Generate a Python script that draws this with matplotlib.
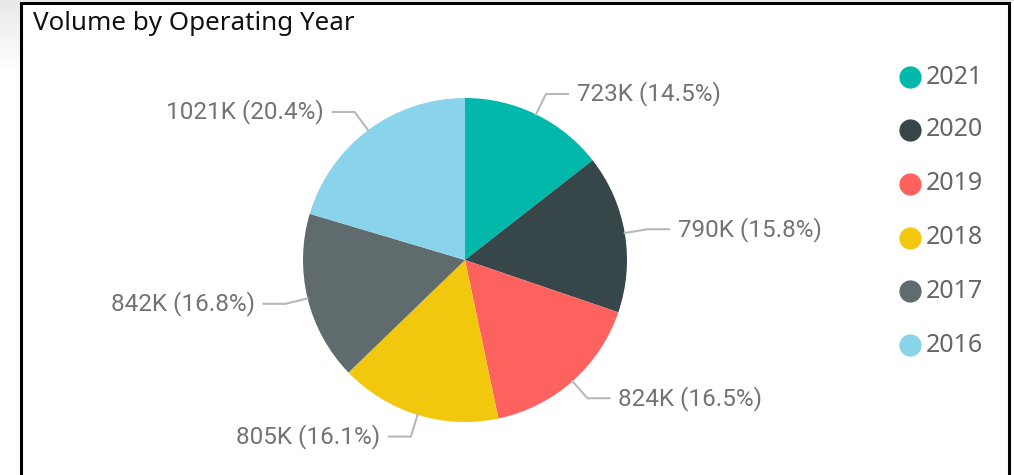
import numpy as np
import matplotlib.pyplot as plt

title = "Volume by Operating Year"
years = ["2021", "2020", "2019", "2018", "2017", "2016"]
values_k = [723, 790, 824, 805, 842, 1021]
pct_labels = ["14.5%", "15.8%", "16.5%", "16.1%", "16.8%", "20.4%"]
colors = ["#01B8AA", "#374649", "#FD625E", "#F2C80F", "#5F6B6D", "#8AD4EB"]

W, H = 1014, 475
fig = plt.figure(figsize=(W / 100, H / 100), dpi=100)
fig.patch.set_facecolor("white")
ax = fig.add_axes([0, 0, 1, 1])
ax.set_xlim(0, W)
ax.set_ylim(0, H)
ax.axis("off")

# light gradient outside the visual border (top-left)
grad = np.linspace(0.91, 1.0, 64).reshape(-1, 1)
ax.imshow(np.dstack([grad] * 3), extent=(0, 20, H - 70, H), aspect="auto", zorder=0)
ax.imshow(np.dstack([grad[:8]] * 3), extent=(0, W, H - 2, H), aspect="auto", zorder=0)

# visual border
ax.plot([21, 21, 1009, 1009], [0, H - 2.5, H - 2.5, 0], color="black", lw=2.2,
        solid_joinstyle="miter", zorder=5)

ax.text(33, H - 24, title, fontsize=18.7, family="Noto Sans", color="#111111",
        va="center", ha="left")

cx, cy, R = 465, H - 260, 162
wedges, _ = ax.pie(values_k, colors=colors, startangle=90, counterclock=False,
                   center=(cx, cy), radius=R, frame=True,
                   wedgeprops=dict(linewidth=0))
ax.set_xlim(0, W)
ax.set_ylim(0, H)
ax.set_aspect("equal")
ax.axis("off")

for w, v, p in zip(wedges, values_k, pct_labels):
    ang = np.deg2rad((w.theta1 + w.theta2) / 2)
    x0, y0 = cx + R * np.cos(ang), cy + R * np.sin(ang)
    x1, y1 = cx + 1.14 * R * np.cos(ang), cy + 1.14 * R * np.sin(ang)
    side = 1 if np.cos(ang) >= 0 else -1
    x2 = x1 + side * 22
    ax.plot([x0, x1, x2], [y0, y1, y1], color="#b8b8b8", lw=1.5, zorder=3)
    ax.text(x2 + side * 9, y1, f"{v}K ({p})", fontsize=17.5, family="Roboto",
            color="#737373", ha="left" if side > 0 else "right", va="center")

leg_y = [77, 130, 184, 238, 291, 345]
for yr, c, ly in zip(years, colors, leg_y):
    ax.plot([910], [H - ly], marker="o", ms=15, color=c, mec=c, zorder=4)
    ax.text(926, H - ly, yr, fontsize=18, family="Noto Sans", color="#666666",
            ha="left", va="center")

fig.savefig("out.png", dpi=100, facecolor="white")
